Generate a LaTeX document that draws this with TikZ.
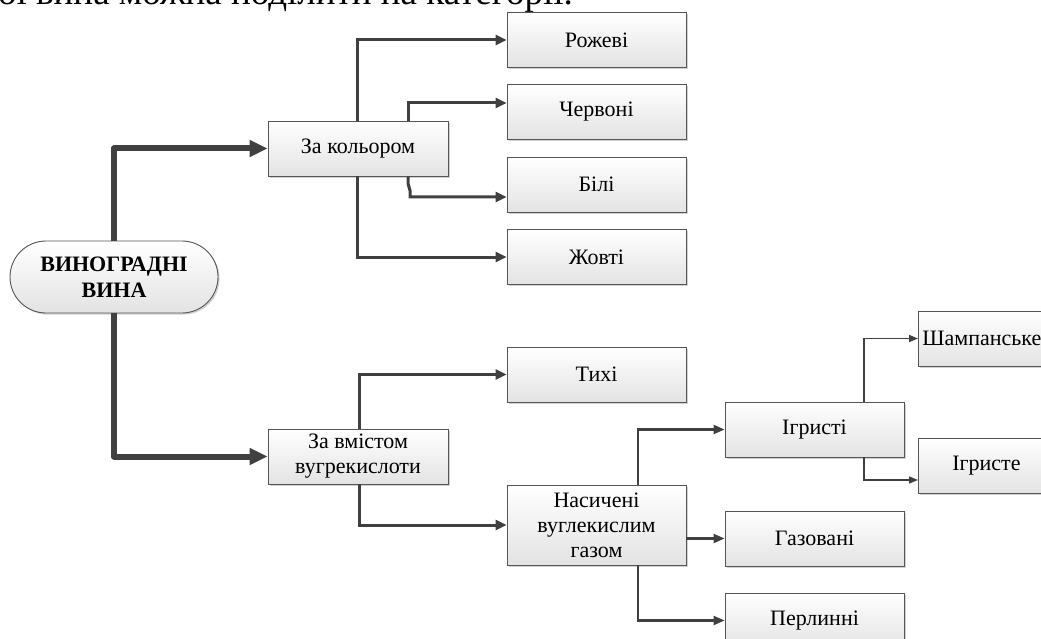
\documentclass[tikz,border=0pt]{standalone}
\usepackage{fontspec}
\setmainfont{Liberation Serif}
\usetikzlibrary{arrows.meta,shadows,calc}
\definecolor{linec}{HTML}{404040}
\definecolor{boxc}{HTML}{555555}
\begin{document}
\begin{tikzpicture}[x=1pt,y=-1pt,
  box/.style={draw=boxc, line width=0.9pt, top color=white, bottom color=black!11,
    drop shadow={shadow xshift=1.6pt,shadow yshift=-1.6pt,fill=black!35,opacity=0.5},
    minimum width=179pt, minimum height=55pt, inner sep=0pt, align=center,
    font=\fontsize{22}{25}\selectfont},
  rootbox/.style={box, rounded corners=36pt, minimum width=208pt, minimum height=72pt,
    font=\fontsize{22}{26}\selectfont\bfseries},
  bigconn/.style={draw=linec, line width=6pt, line join=round,
    -{Triangle[length=18pt,width=16pt]}},
  midconn/.style={draw=linec, line width=3pt, line join=miter,
    -{Triangle[length=11pt,width=10pt]}},
  smallconn/.style={draw=linec, line width=2.2pt, line join=miter,
    -{Triangle[length=11pt,width=9pt]}},
  tinyconn/.style={draw=linec, line width=1.6pt, line join=miter,
    -{Triangle[length=9pt,width=7pt]}},
  toptext/.style={anchor=base west, inner sep=0pt, font=\fontsize{37}{40}\selectfont}
]
\useasboundingbox (0,0) rectangle (1041,639);
\clip (0,0) rectangle (1041,639);

\node[toptext] (intro) at (-2,4.5) {ої вина можна поділити на категорії.};

\node[rootbox] (vina) at (114,277) {ВИНОГРАДНІ\\ВИНА};

\node[box, minimum width=180pt] (kol) at (358,148.5) {За кольором};
\node[box] (roz) at (596.5,40) {Рожеві};
\node[box] (cherv) at (596.5,112) {Червоні};
\node[box] (bili) at (596.5,184.5) {Білі};
\node[box] (zhovt) at (596.5,257) {Жовті};

\node[box, minimum width=180pt] (vmist) at (358,456.5) {За вмістом\\вугрекислоти};
\node[box] (tykh) at (596.5,374.5) {Тихі};
\node[box, minimum height=80pt] (nasych) at (596.5,525) {Насичені\\вуглекислим\\газом};

\node[box] (igrysti) at (814.5,429.5) {Ігристі};
\node[box] (hazov) at (814.5,538.5) {Газовані};
\node[box] (perl) at (814.5,620.5) {Перлинні};

\node[box, minimum width=150pt, text width=142pt, inner xsep=4pt, align=left, anchor=west] (shamp) at (918,338.5) {Шампанське};
\node[box, minimum width=136pt, anchor=west] (igryste) at (918,465.5) {Ігристе};

% connectors
\draw[bigconn] (vina.north) |- (kol.west);
\draw[bigconn] (vina.south) |- (vmist.west);

\draw[midconn] ([xshift=-1pt]kol.north) |- (roz.west);
\draw[midconn] ([xshift=50pt]kol.north) |- ([yshift=9pt]cherv.west);
\draw[midconn] ([xshift=50pt]kol.south) -- ++(0,7) -- ++(2,7) |- ([yshift=-12.5pt]bili.west);
\draw[midconn] ([xshift=-1pt]kol.south) |- (zhovt.west);

\draw[midconn] ([xshift=1pt]vmist.north) |- (tykh.west);
\draw[midconn] ([xshift=1pt]vmist.south) |- (nasych.west);

\draw[smallconn] ([xshift=41.5pt]nasych.north) |- (igrysti.west);
\draw[smallconn] (nasych.east |- hazov.west) -- (hazov.west);
\draw[smallconn] ([xshift=41.5pt]nasych.south) |- (perl.west);

\draw[tinyconn] ([xshift=49.5pt]igrysti.north) |- (shamp.west);
\draw[tinyconn] ([xshift=49.5pt]igrysti.south) |- ([yshift=-14.5pt]igryste.west);
\end{tikzpicture}
\end{document}
